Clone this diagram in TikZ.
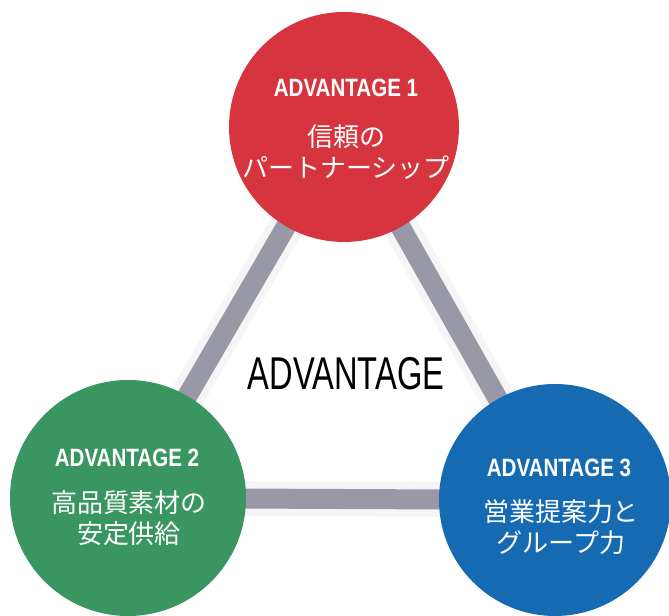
\documentclass[tikz,border=0pt]{standalone}
\usepackage{fontspec}
\setmainfont{Liberation Sans}
\newfontfamily\centrefont[FakeStretch=0.71]{Liberation Sans}
\newfontfamily\titlefont[FakeStretch=0.82]{Liberation Sans Bold}
\newfontfamily\jpfont{Noto Sans CJK JP}
\usetikzlibrary{backgrounds}

\definecolor{advred}{RGB}{214,52,62}
\definecolor{advgreen}{RGB}{58,150,96}
\definecolor{advblue}{RGB}{22,106,178}
\definecolor{bargray}{RGB}{152,152,166}

\tikzset{
  advcircle/.style={circle, inner sep=0pt, draw=none},
  advtitle/.style={text=white, inner sep=0.75pt, font=\titlefont\fontsize{18.8}{20}\selectfont},
  advtext/.style={text=white, inner sep=0.75pt, align=center, font=\jpfont\fontsize{19.5}{23.25}\selectfont},
  bar/.style={draw=bargray, line width=15pt},
  barglow/.style={draw=black!4, line width=26pt, line cap=round}
}

\begin{document}
\begin{tikzpicture}[x=0.75pt,y=0.75pt,yscale=-1,xscale=1]
\path[use as bounding box] (0,0) rectangle (669,616);

% Circles
\node[advcircle, fill=advred, minimum size=172.5pt] (adv1) at (344,127) {};
\node[advcircle, fill=advgreen, minimum size=177pt] (adv2) at (128,498) {};
\node[advcircle, fill=advblue, minimum size=174pt] (adv3) at (555,500) {};

% Text Node
\node[advtitle] (adv1title) at (346,88) {ADVANTAGE 1};
\node[advtext] (adv1text) at (346,152) {信頼の\\パートナーシップ};
% Text Node
\node[advtitle] (adv2title) at (127,458) {ADVANTAGE 2};
\node[advtext] (adv2text) at (129,518) {高品質素材の\\安定供給};
% Text Node
\node[advtitle] (adv3title) at (559,468) {ADVANTAGE 3};
\node[advtext] (adv3text) at (561,527) {営業提案力と\\グループ力};
% Text Node
\node[font=\centrefont\fontsize{34.5}{36}\selectfont, inner sep=0.75pt] (centre) at (346,374) {ADVANTAGE};

% Connection
\begin{scope}[on background layer]
\draw[barglow] (adv1.center) -- (adv2.center) -- (adv3.center) -- cycle;
\draw[bar] (adv1.center) -- (adv2.center);
\draw[bar] (adv2.center) -- (adv3.center);
\draw[bar] (adv3.center) -- (adv1.center);
\end{scope}

\end{tikzpicture}
\end{document}
